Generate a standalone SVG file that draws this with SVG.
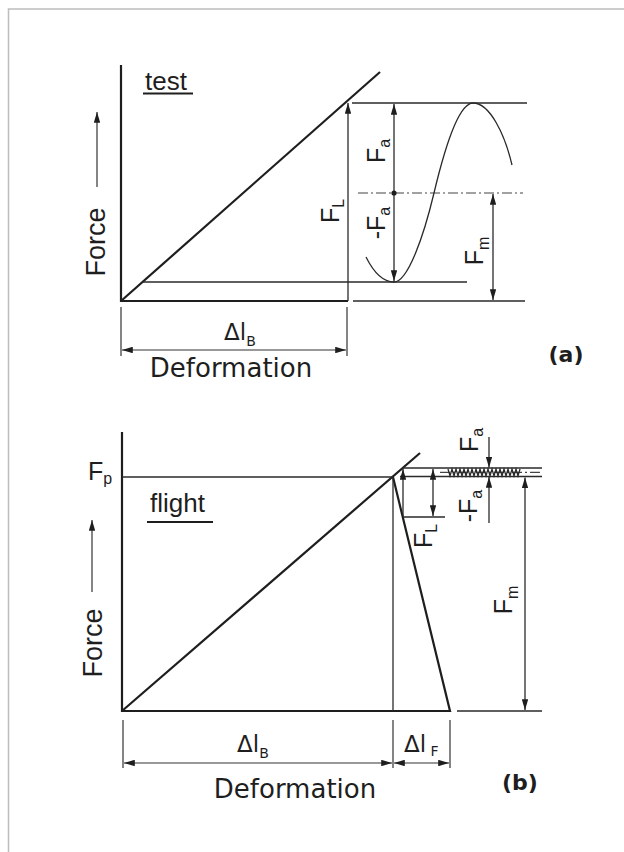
<svg xmlns="http://www.w3.org/2000/svg" width="624" height="852" viewBox="0 0 624 852">
<style>
.bg{fill:#fff}
.frame{fill:none;stroke:#bdbdbd;stroke-width:1.5}
.thick{fill:none;stroke:#1e1e1e;stroke-width:2.2}
.thin{fill:none;stroke:#2a2a2a;stroke-width:1.3}
.dim{fill:none;stroke:#333;stroke-width:1.2}
.arr{marker-end:url(#ah)}
.arr2{marker-start:url(#ah);marker-end:url(#ah)}
.dashdot{fill:none;stroke:#444;stroke-width:1.2;stroke-dasharray:10 3 2 3}
.lbl{font-family:"Liberation Sans",Arial,sans-serif;fill:#1e1e1e}
.dv{font-family:"DejaVu Sans",Verdana,sans-serif;fill:#1e1e1e}
</style>
<defs>
<marker id="ah" viewBox="0 0 10 6" refX="10" refY="3" markerWidth="11" markerHeight="6.5" orient="auto-start-reverse" markerUnits="userSpaceOnUse">
<path d="M0,0 L10,3 L0,6 z" fill="#1e1e1e"/>
</marker>
</defs>
<rect class="bg" x="0" y="0" width="624" height="852"/>
<path class="frame" d="M8.5,852 V9 H624"/>

<g id="connectors">
<!-- diagram (a) -->
<path class="thick" d="M121,65 V301 H348"/>
<path class="thick" d="M121,301 L380,72"/>
<line class="thin" x1="143" y1="282" x2="467" y2="282"/>
<line class="thin" x1="352" y1="103" x2="527" y2="103"/>
<line class="thin" x1="353" y1="301" x2="525" y2="301"/>
<line class="dashdot" x1="358" y1="193" x2="523" y2="193"/>
<line class="thin arr" x1="348" y1="301" x2="348" y2="103"/>
<line class="thin arr2" x1="394" y1="104" x2="394" y2="281"/>
<circle cx="394" cy="193" r="2.6" fill="#1e1e1e"/>
<line class="thin arr2" x1="493" y1="194" x2="493" y2="300"/>
<path class="thin" d="M366,257 C374,273 384,282 394,282 C408,282 424,235 434,193 C444,151 458,103 473,103 C490,103 505,135 512,165" stroke-width="1.6"/>
<line class="dim arr" x1="97" y1="187" x2="97" y2="112"/>
<line class="dim" x1="121" y1="307" x2="121" y2="356"/>
<line class="dim" x1="347" y1="307" x2="347" y2="356"/>
<line class="dim arr2" x1="122" y1="350" x2="346" y2="350"/>
<line class="thick" x1="143" y1="93.5" x2="193" y2="93.5" stroke-width="1.8"/>

<!-- diagram (b) -->
<path class="thick" d="M122,432 V711 H450 L393,477"/>
<path class="thick" d="M122,711 L420,453"/>
<line class="thin" x1="122" y1="477" x2="393" y2="477"/>
<line class="thin" x1="393" y1="477" x2="393" y2="711"/>
<line class="thin" x1="402" y1="468" x2="542" y2="468"/>
<line class="thin" x1="400" y1="476.5" x2="542" y2="476.5"/>
<line class="dashdot" x1="440" y1="472.3" x2="542" y2="472.3" stroke-width="0.9"/>
<path class="thin" stroke-width="1" d="M448,469 l2,7 l2,-7 l2,7 l2,-7 l2,7 l2,-7 l2,7 l2,-7 l2,7 l2,-7 l2,7 l2,-7 l2,7 l2,-7 l2,7 l2,-7 l2,7 l2,-7 l2,7 l2,-7 l2,7 l2,-7 l2,7 l2,-7 l2,7 l2,-7 l2,7 l2,-7 l2,7 l2,-7 l2,7 l2,-7 l2,7 l2,-7 l2,7 l2,-7"/>
<line class="thin arr" x1="403" y1="517" x2="403" y2="469"/>
<line class="thin" x1="403" y1="517" x2="445" y2="517"/>
<line class="thin arr2" x1="433" y1="469" x2="433" y2="516"/>
<line class="thin arr" x1="489" y1="437" x2="489" y2="467.5"/>
<line class="thin arr" x1="489" y1="523" x2="489" y2="477"/>
<line class="thin arr2" x1="525" y1="477.5" x2="525" y2="710"/>
<line class="thin" x1="457" y1="711" x2="542" y2="711"/>
<line class="dim arr" x1="92" y1="592" x2="92" y2="520"/>
<line class="dim" x1="123" y1="720" x2="123" y2="768"/>
<line class="dim" x1="393" y1="720" x2="393" y2="768"/>
<line class="dim" x1="450" y1="720" x2="450" y2="768"/>
<line class="dim arr2" x1="124" y1="763" x2="392" y2="763"/>
<line class="dim arr2" x1="394" y1="763" x2="449" y2="763"/>
<line class="thick" x1="147" y1="522" x2="213" y2="522" stroke-width="1.8"/>
</g>

<!-- labels (a) -->
<g id="a-force"><text class="lbl" font-size="27" text-anchor="middle" transform="translate(105,242) rotate(-90)">Force</text></g>
<g id="a-test"><text class="lbl" font-size="26" x="145" y="90">test</text></g>
<g id="a-FL"><text class="lbl" font-size="25" text-anchor="middle" transform="translate(339,211) rotate(-90)">F<tspan font-size="16" dy="5">L</tspan></text></g>
<g id="a-Fa"><text class="lbl" font-size="25" text-anchor="middle" transform="translate(385,151) rotate(-90)">F<tspan font-size="16" dy="5">a</tspan></text></g>
<g id="a-mFa"><text class="lbl" font-size="25" text-anchor="middle" transform="translate(385,223) rotate(-90)">-F<tspan font-size="16" dy="5">a</tspan></text></g>
<g id="a-Fm"><text class="lbl" font-size="25" text-anchor="middle" transform="translate(483,251) rotate(-90)">F<tspan font-size="16" dy="6">m</tspan></text></g>
<g id="a-dlB"><text class="dv" font-size="23" x="224" y="340">Δl<tspan font-size="14" dy="6">B</tspan></text></g>
<g id="a-deformation"><text class="dv" font-size="26" text-anchor="middle" x="231" y="377">Deformation</text></g>
<g id="a-tag"><text class="dv" font-size="22" font-weight="bold" text-anchor="middle" x="566" y="362">(a)</text></g>

<!-- labels (b) -->
<g id="b-Fp"><text class="lbl" font-size="25" x="88" y="480">F<tspan font-size="16" dy="4">p</tspan></text></g>
<g id="b-flight"><text class="lbl" font-size="26" x="150" y="512">flight</text></g>
<g id="b-force"><text class="lbl" font-size="27" text-anchor="middle" transform="translate(102,643) rotate(-90)">Force</text></g>
<g id="b-FL"><text class="lbl" font-size="25" text-anchor="middle" transform="translate(432,536) rotate(-90)">F<tspan font-size="16" dy="5">L</tspan></text></g>
<g id="b-Fa"><text class="lbl" font-size="25" text-anchor="middle" transform="translate(478,440) rotate(-90)">F<tspan font-size="16" dy="5">a</tspan></text></g>
<g id="b-mFa"><text class="lbl" font-size="25" text-anchor="middle" transform="translate(477,506) rotate(-90)">-F<tspan font-size="16" dy="5">a</tspan></text></g>
<g id="b-Fm"><text class="lbl" font-size="25" text-anchor="middle" transform="translate(512,600) rotate(-90)">F<tspan font-size="16" dy="6">m</tspan></text></g>
<g id="b-dlB"><text class="dv" font-size="23" x="237" y="752">Δl<tspan font-size="14" dy="6">B</tspan></text></g>
<g id="b-dlF"><text class="dv" font-size="23" x="404" y="752">Δl<tspan font-size="14" dy="4"> F</tspan></text></g>
<g id="b-deformation"><text class="dv" font-size="26" text-anchor="middle" x="295" y="798">Deformation</text></g>
<g id="b-tag"><text class="dv" font-size="22" font-weight="bold" text-anchor="middle" x="520" y="790">(b)</text></g>
</svg>
